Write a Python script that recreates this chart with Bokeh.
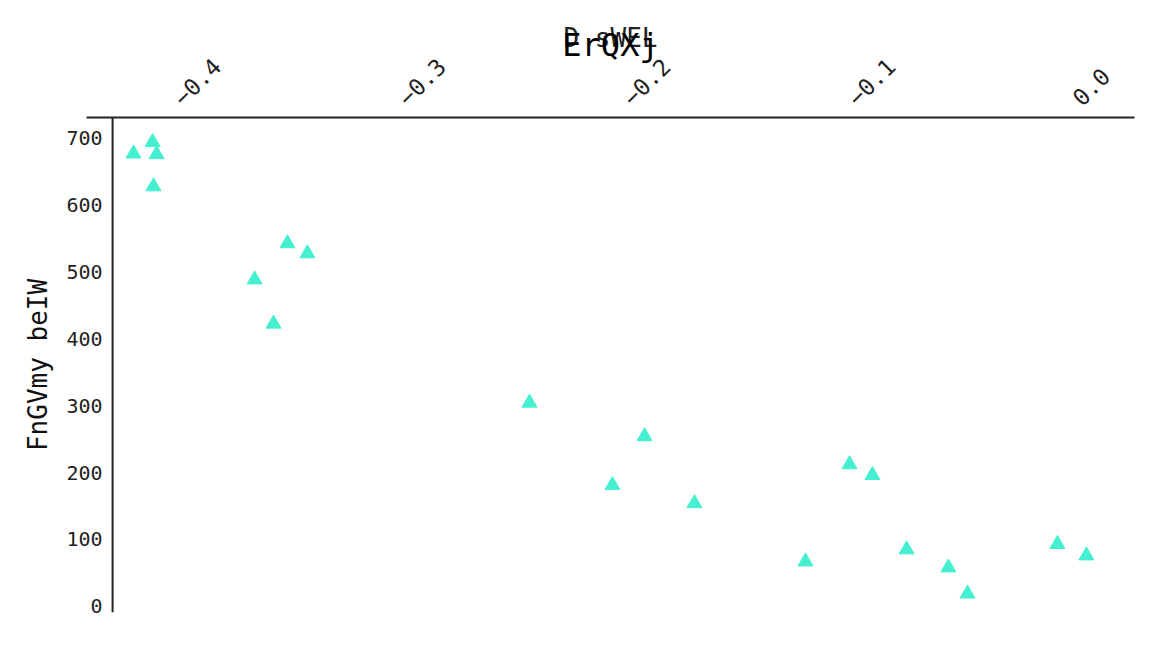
from bokeh.plotting import figure
from bokeh.models import Range1d, SingleIntervalTicker, Span, CustomJSTickFormatter
from bokeh.embed import file_html
from bokeh.resources import INLINE

x_vals = [-0.4196, -0.4111, -0.4093, -0.4107, -0.3657, -0.3573, -0.3511, -0.3422,
          -0.2434, -0.2065, -0.1922, -0.1700, -0.1206, -0.1010, -0.0908, -0.0756,
          -0.0570, -0.0485, -0.0085, 0.0044]
y_vals = [676, 693, 675, 627, 488, 422, 542, 527,
          304, 181, 254, 154, 67, 212, 196, 85,
          58, 19, 93, 76]

FONT = "DejaVu Sans Mono"
Y_AXIS_AT = -0.4289

p = figure(width=1153, height=637, output_backend="svg", toolbar_location=None,
           x_axis_location="above", title="ErQXj",
           x_range=Range1d(-0.4405, 0.0258), y_range=Range1d(-9, 730),
           min_border_left=86, min_border_right=19, min_border_bottom=25,
           min_border_top=117)

p.scatter(x_vals, y_vals, marker="triangle", size=15, color="#45F0D0")

p.add_layout(Span(location=Y_AXIS_AT, dimension="height",
                  line_color="#222222", line_width=2))

p.grid.visible = False
p.outline_line_color = None

p.title.text_font = FONT
p.title.text_font_size = "32px"
p.title.text_font_style = "normal"
p.title.align = "center"
p.title.text_color = "#000000"
p.title.standoff = -86

xa = p.xaxis[0]
xa.axis_label = "D sWEL"
xa.ticker = SingleIntervalTicker(interval=0.1)
xa.formatter = CustomJSTickFormatter(code="""
    if (Math.abs(tick) < 1e-9) { return "0.0"; }
    return tick.toFixed(1).replace("-", "\\u2212");
""")
xa.major_label_orientation = 0.785398
xa.major_label_standoff = 10
xa.axis_label_standoff = -6
xa.axis_label_text_font = FONT
xa.axis_label_text_font_size = "26px"
xa.axis_label_text_font_style = "normal"
xa.axis_label_text_color = "#222222"
xa.major_label_text_font = FONT
xa.major_label_text_font_size = "23px"
xa.major_label_text_color = "#222222"
xa.major_tick_line_color = None
xa.minor_tick_line_color = None
xa.axis_line_color = "#222222"
xa.axis_line_width = 2

ya = p.yaxis[0]
ya.axis_label = "FnGVmy beIW"
ya.ticker = SingleIntervalTicker(interval=100)
ya.axis_label_text_font = FONT
ya.axis_label_text_font_size = "26px"
ya.axis_label_text_font_style = "normal"
ya.axis_label_text_color = "#111111"
ya.axis_label_standoff = 10
ya.major_label_standoff = -22
ya.major_label_text_font = FONT
ya.major_label_text_font_size = "20px"
ya.major_label_text_color = "#222222"
ya.major_tick_line_color = None
ya.minor_tick_line_color = None
ya.axis_line_color = None

open("out.html", "w").write(file_html(p, INLINE))
